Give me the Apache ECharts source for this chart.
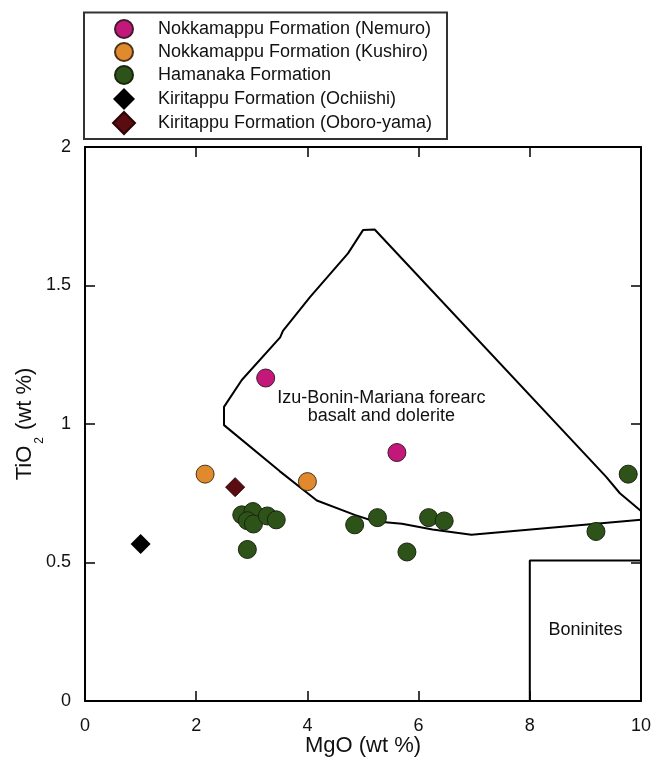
<!DOCTYPE html>
<html>
<head>
<meta charset="utf-8">
<title>TiO2 vs MgO</title>
<script src="https://cdn.jsdelivr.net/npm/echarts@6/dist/echarts.min.js"></script>
<style>
  html, body { margin: 0; padding: 0; background: #fff; }
  #chart { width: 653px; height: 757px; }
</style>
</head>
<body>
<div id="chart"></div>
<script>
// Sample groups: [MgO wt%, TiO2 wt%]
const nemuro = [[3.25, 1.166], [5.61, 0.897]];
const kushiro = [[2.16, 0.819], [4.00, 0.792]];
const hamanaka = [
  [2.82, 0.672], [3.02, 0.684], [2.92, 0.651], [3.03, 0.639],
  [3.28, 0.668], [3.44, 0.654], [2.92, 0.547], [4.85, 0.636],
  [5.26, 0.662], [5.79, 0.538], [6.18, 0.662], [6.46, 0.650],
  [9.19, 0.612], [9.77, 0.819]
];
const ochiishi = [[1.00, 0.567]];
const oboroyama = [[2.70, 0.772]];

// Izu-Bonin-Mariana forearc field outline
const forearcField = [
  [10.0, 0.686], [9.62, 0.750], [9.37, 0.810], [5.21, 1.702], [5.00, 1.700],
  [4.73, 1.616], [4.05, 1.459], [3.56, 1.336], [3.51, 1.313], [2.82, 1.159],
  [2.50, 1.062], [2.50, 0.996], [3.50, 0.830], [4.17, 0.724], [4.85, 0.672],
  [5.20, 0.649], [5.70, 0.640], [6.25, 0.619], [6.95, 0.600], [10.0, 0.654]
];
// Boninite field outline
const boniniteField = [[8.0, 0.0], [8.0, 0.507], [10.0, 0.507]];

const legendNames = [
  'Nokkamappu Formation (Nemuro)',
  'Nokkamappu Formation (Kushiro)',
  'Hamanaka Formation',
  'Kiritappu Formation (Ochiishi)',
  'Kiritappu Formation (Oboro-yama)'
];
const xTicks = { min: 0, max: 10, interval: 2 };
const yTicks = { min: 0, max: 2, interval: 0.5 };

const FONT = '"Liberation Sans", Arial, Helvetica, sans-serif';
const INK = '#111';

const chart = echarts.init(document.getElementById('chart'), null, { renderer: 'canvas' });

const frameLine = { show: true, onZero: false, lineStyle: { color: '#000', width: 2 } };
const innerTick = { show: true, inside: true, length: 10, lineStyle: { color: '#000', width: 1.5 } };

function fieldSeries(name, data) {
  return {
    name: name, type: 'line', data: data, symbol: 'none', silent: true,
    lineStyle: { color: '#000', width: 2 }, z: 1, animation: false
  };
}
function pointSeries(name, data, symbol, size, color, border) {
  return {
    name: name, type: 'scatter', data: data, symbol: symbol, symbolSize: size,
    symbolKeepAspect: true,
    itemStyle: { color: color, borderColor: border, borderWidth: border ? 1 : 0, opacity: 1 },
    z: 5, animation: false
  };
}
// Shared legend look; circles and diamonds get their own icon box size
function legendBlock(names, top, icon, gap, textPad) {
  return {
    data: names, orient: 'vertical', left: 123 - icon / 2, top: top,
    itemWidth: icon, itemHeight: icon, itemGap: gap, padding: 0,
    symbolKeepAspect: true,
    textStyle: { fontFamily: FONT, fontSize: 18, color: INK, padding: [0, 0, 0, textPad] },
    selectedMode: false
  };
}

const legendFrame = {
  type: 'rect', silent: true, z: 0,
  shape: { x: 84, y: 12.5, width: 363, height: 126.5 },
  style: { fill: '#fff', stroke: '#333', lineWidth: 2 }
};

chart.setOption({
  backgroundColor: '#fff',
  animation: false,
  textStyle: { fontFamily: FONT },
  grid: { left: 85, right: 12, top: 147, bottom: 56, containLabel: false, outerBoundsMode: 'none' },
  legend: [
    legendBlock(legendNames.slice(0, 3), 19, 18, 3, 20),
    legendBlock(legendNames.slice(3), 88, 22, 1, 18)
  ],
  graphic: [legendFrame],
  xAxis: [
    {
      type: 'value', position: 'bottom', min: xTicks.min, max: xTicks.max, interval: xTicks.interval,
      axisLine: frameLine, axisTick: innerTick, splitLine: { show: false },
      axisLabel: { fontSize: 18, color: INK, margin: 16, fontFamily: FONT },
      name: 'MgO (wt %)', nameLocation: 'middle', nameGap: 34, nameMoveOverlap: false,
      nameTextStyle: { fontSize: 22, color: INK, fontFamily: FONT }
    },
    {
      type: 'value', position: 'top', min: xTicks.min, max: xTicks.max, interval: xTicks.interval,
      axisLine: frameLine, axisTick: innerTick, splitLine: { show: false },
      axisLabel: { show: false }
    }
  ],
  yAxis: [
    {
      type: 'value', position: 'left', min: yTicks.min, max: yTicks.max, interval: yTicks.interval,
      axisLine: frameLine, axisTick: innerTick, splitLine: { show: false },
      axisLabel: { fontSize: 18, color: INK, margin: 14, fontFamily: FONT },
      name: '{a|TiO}{s|2}{a| (wt %)}', nameLocation: 'middle', nameGap: 49, nameMoveOverlap: false,
      nameTextStyle: {
        color: INK, fontFamily: FONT,
        rich: {
          a: { fontSize: 22, lineHeight: 22, verticalAlign: 'top', color: INK, fontFamily: FONT },
          s: { fontSize: 12, lineHeight: 12, verticalAlign: 'top', padding: [20, 1, 0, 2], color: INK, fontFamily: FONT }
        }
      }
    },
    {
      type: 'value', position: 'right', min: yTicks.min, max: yTicks.max, interval: yTicks.interval,
      axisLine: frameLine, axisTick: innerTick, splitLine: { show: false },
      axisLabel: { show: false }
    }
  ],
  series: [
    fieldSeries('forearc', forearcField),
    fieldSeries('boninite', boniniteField),
    pointSeries(legendNames[0], nemuro, 'circle', 18, '#C3187A', '#3b1d2c'),
    pointSeries(legendNames[1], kushiro, 'circle', 18, '#E08A2D', '#4a3318'),
    pointSeries(legendNames[2], hamanaka, 'circle', 18, '#2D5319', '#1a2410'),
    pointSeries(legendNames[3], ochiishi, 'diamond', 20, '#000000', null),
    pointSeries(legendNames[4], oboroyama, 'diamond', 19, '#5A0C10', '#2a0508')
  ]
});

// Field labels, anchored in data coordinates
const forearcLabelAt = [5.33, 1.062];
const boniniteLabelAt = [9.0, 0.256];
const p1 = chart.convertToPixel({ gridIndex: 0 }, forearcLabelAt);
const p2 = chart.convertToPixel({ gridIndex: 0 }, boniniteLabelAt);
chart.setOption({
  graphic: [
    legendFrame,
    {
      type: 'text', x: p1[0], y: p1[1], silent: true, z: 10,
      style: {
        text: 'Izu-Bonin-Mariana forearc\nbasalt and dolerite',
        fontSize: 18, lineHeight: 18, fontFamily: FONT, fill: INK,
        align: 'center', verticalAlign: 'middle'
      }
    },
    {
      type: 'text', x: p2[0], y: p2[1], silent: true, z: 10,
      style: {
        text: 'Boninites', fontSize: 18, fontFamily: FONT, fill: INK,
        align: 'center', verticalAlign: 'middle'
      }
    }
  ]
});
</script>
</body>
</html>
